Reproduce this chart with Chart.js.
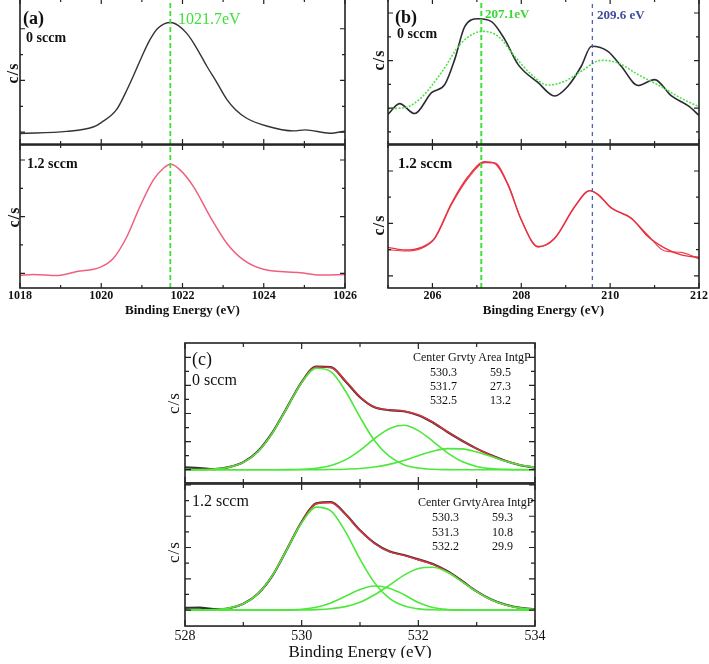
<!DOCTYPE html>
<html><head><meta charset="utf-8">
<script src="https://cdn.jsdelivr.net/npm/chart.js@4.4.1/dist/chart.umd.min.js"></script>
<style>
html,body{margin:0;padding:0;background:#fff;}
#stage{position:relative;width:709px;height:664px;overflow:hidden;background:#fff;}
.pane{position:absolute;}
.pane canvas{display:block;}
.t{position:absolute;white-space:nowrap;font-family:"Liberation Serif","Times New Roman",serif;color:#111;}
</style></head><body><div id="stage"></div>
<script>
// ================= DATA =================
// Panel (a) : 0 sccm / 1.2 sccm
const xA0  = [1018,1019.15,1019.8,1020.0,1020.38,1020.6,1020.79,1021.0,1021.2,1021.4,1021.71,1021.9,1022.1,1022.3,1022.6,1022.85,1023.09,1023.3,1023.58,1024.07,1024.73,1025.02,1025.63,1026];
const yA0  = [-0.05,0.03,0.2,0.37,0.88,1.53,2.17,2.93,3.58,4.03,4.24,4.12,3.83,3.38,2.55,1.91,1.27,0.88,0.54,0.24,0.05,0.09,-0.04,0.04];
const xA12 = [1018,1018.33,1018.9,1019.4,1019.97,1020.3,1020.63,1020.95,1021.28,1021.53,1021.71,1021.94,1022.27,1022.68,1023.09,1023.5,1023.99,1024.9,1025.38,1026];
const yA12 = [-0.08,-0.04,-0.08,0.06,0.21,0.53,1.29,2.35,3.29,3.71,3.85,3.65,3.06,2.0,1.06,0.47,0.14,0.02,-0.06,-0.04];
const peakA = 1021.7;

// Panel (b)
const xB0    = [205,205.26,205.6,205.98,206.28,206.5,206.73,207.03,207.33,207.63,207.93,208.38,208.75,209.05,209.35,209.58,209.95,210.25,210.63,211.0,211.38,211.76,212];
const yB0    = [0.74,1.19,0.77,1.65,2.0,3.04,4.44,4.76,4.64,3.88,2.83,2.07,1.51,1.92,2.76,3.6,3.39,2.76,1.95,2.2,1.51,1.09,0.70];
const xB0fit = [205,205.38,205.75,206.2,206.65,207.14,207.48,207.85,208.23,208.6,208.98,209.35,209.8,210.18,210.63,211.15,211.6,212];
const yB0fit = [0.98,1.02,1.44,2.49,3.74,4.23,4.02,3.18,2.41,1.97,2.13,2.55,3.01,2.9,2.41,1.9,1.41,1.06];
const xB12   = [205,205.38,205.75,206.05,206.43,206.8,207.18,207.4,207.7,208.0,208.38,208.75,209.2,209.54,209.73,210.03,210.48,210.85,211.23,211.6,212];
const yB12a  = [1.09,0.99,1.09,1.44,2.77,3.78,4.35,4.29,3.47,2.13,1.12,1.44,2.64,3.25,3.09,2.58,2.2,1.50,1.06,0.8,0.71];
const yB12b  = [1.0,0.95,1.05,1.42,2.72,3.72,4.32,4.31,3.5,2.15,1.1,1.42,2.62,3.25,3.1,2.6,2.18,1.55,0.95,0.9,0.65];
const peakB1 = 207.1, peakB2 = 209.6;

// Panel (c)
const xC = [528,528.25,528.5,528.75,529,529.25,529.5,529.75,530,530.25,530.5,530.75,531,531.25,531.5,531.75,532,532.25,532.5,532.75,533,533.25,533.5,533.75,534];
const c0Data = [0.08,0.06,0.02,0.09,0.27,0.66,1.33,2.22,3.12,3.67,3.65,3.15,2.58,2.22,2.12,2.08,1.94,1.68,1.34,1.03,0.75,0.51,0.31,0.16,0.07];
const c0Fit  = [0,0.006,0.025,0.089,0.26,0.64,1.31,2.21,3.11,3.66,3.64,3.17,2.60,2.23,2.13,2.09,1.95,1.69,1.35,1.03,0.75,0.51,0.31,0.17,0.08];
const c0G1   = [0,0.006,0.025,0.089,0.26,0.64,1.31,2.21,3.10,3.61,3.49,2.80,1.87,1.03,0.48,0.18,0.058,0.015,0.003,0,0,0,0,0,0];
const c0G2   = [0,0,0,0,0,0,0,0.003,0.014,0.05,0.147,0.35,0.69,1.11,1.46,1.58,1.39,1.01,0.60,0.29,0.116,0.038,0.01,0.002,0];
const c0G3   = [0,0,0,0,0,0,0,0,0,0,0.005,0.015,0.04,0.094,0.19,0.33,0.50,0.66,0.75,0.74,0.63,0.47,0.30,0.17,0.08];
const c12Data = [0.07,0.08,0.03,0.06,0.2,0.52,1.1,1.95,2.82,3.41,3.45,3.07,2.55,2.14,1.88,1.76,1.62,1.47,1.24,0.93,0.6,0.34,0.17,0.07,0.03];
const c12Fit  = [0,0.003,0.016,0.063,0.20,0.52,1.11,1.96,2.82,3.40,3.44,3.06,2.54,2.13,1.87,1.75,1.61,1.46,1.23,0.92,0.59,0.33,0.16,0.063,0.022];
const c12G1   = [0,0.003,0.016,0.063,0.20,0.52,1.11,1.95,2.79,3.29,3.17,2.51,1.63,0.87,0.38,0.135,0.04,0.01,0.002,0,0,0,0,0,0];
const c12G2   = [0,0,0,0,0,0,0.001,0.007,0.029,0.092,0.23,0.44,0.66,0.77,0.70,0.50,0.24,0.08,0.02,0.005,0,0,0,0,0];
const c12G3   = [0,0,0,0,0,0,0,0,0.004,0.015,0.044,0.11,0.25,0.49,0.79,1.11,1.33,1.37,1.21,0.91,0.59,0.33,0.16,0.063,0.022];
const c0Centers  = ['530.3','531.7','532.5'];
const c0Areas    = ['59.5','27.3','13.2'];
const c12Centers = ['530.3','531.3','532.2'];
const c12Areas   = ['59.3','10.8','29.9'];

// Tick values
const ticksXA = [1018,1020,1022,1024,1026], minorXA = [1019,1021,1023,1025];
const ticksXB = [206,208,210,212],          minorXB = [205,207,209,211];
const ticksXC = [528,530,532,534],          minorXC = [529,531,533];

// ================= DRAWING =================
const SERIF = '"Liberation Serif", "Times New Roman", serif';
const stage = document.getElementById('stage');
const pts = (xs, ys) => xs.map((x, i) => ({x, y: ys[i]}));

function line(xs, ys, color, width, extra) {
  return Object.assign({data: pts(xs, ys), borderColor: color, borderWidth: width, pointRadius: 0,
    fill: false, cubicInterpolationMode: 'monotone'}, extra || {});
}
function vline(x, y0, y1, color, width, dash) {
  return {data: [{x, y: y0}, {x, y: y1}], borderColor: color, borderWidth: width, borderDash: dash,
    pointRadius: 0, tension: 0, cubicInterpolationMode: 'default', fill: false};
}

const frameTicks = {
  id: 'frameTicks',
  afterDatasetsDraw(chart, args, o) {
    const {ctx, chartArea: a} = chart;
    const xs = chart.scales.x, ys = chart.scales.y;
    ctx.save();
    ctx.strokeStyle = '#222';
    ctx.lineWidth = 1.2;
    ctx.beginPath();
    const xt = (vals, len) => vals.forEach(v => { const p = xs.getPixelForValue(v);
      ctx.moveTo(p, a.bottom); ctx.lineTo(p, a.bottom - len); ctx.moveTo(p, a.top); ctx.lineTo(p, a.top + len); });
    const yt = (vals, len) => vals.forEach(v => { const p = ys.getPixelForValue(v);
      ctx.moveTo(a.left, p); ctx.lineTo(a.left + len, p); ctx.moveTo(a.right, p); ctx.lineTo(a.right - len, p); });
    xt(o.xMajor, o.major); xt(o.xMinor, o.minor); yt(o.yMajor, o.major); yt(o.yMinor, o.minor);
    ctx.stroke();
    ctx.lineWidth = 1.6;
    ctx.strokeRect(a.left, a.top, a.right - a.left, a.bottom - a.top);
    ctx.restore();
  }
};

function makePanel(p) {
  const box = document.createElement('div'); box.className = 'pane';
  const cv = document.createElement('canvas'); box.appendChild(cv); stage.appendChild(box);
  const A = p.area;
  const tw = A.r - A.l, th = A.b - A.t;
  const showX = !!p.xTitle;
  let W = tw + 50, H = th + (showX ? 70 : 10);
  cv.width = W; cv.height = H; cv.style.width = W + 'px'; cv.style.height = H + 'px';
  const chart = new Chart(cv, {
    type: 'line',
    data: {datasets: p.datasets},
    options: {
      responsive: false, maintainAspectRatio: false, animation: false, events: [],
      layout: {padding: {left: 25, right: 25, top: 5, bottom: 0}},
      plugins: {legend: {display: false}, tooltip: {enabled: false}, frameTicks: p.ticks},
      elements: {point: {radius: 0}},
      scales: {
        x: {type: 'linear', min: p.xmin, max: p.xmax, display: showX,
            grid: {display: false, drawTicks: false}, border: {display: false},
            afterBuildTicks: s => { s.ticks = p.ticks.xMajor.map(v => ({value: v})); },
            ticks: {autoSkip: false, maxRotation: 0, minRotation: 0, padding: p.tickPad || 1,
                    color: '#111', font: p.tickFont, callback: v => String(v)},
            title: {display: showX, text: p.xTitle || '', color: '#111', font: p.titleFont,
                    padding: {top: 0, bottom: 0}}},
        y: {type: 'linear', min: p.ymin, max: p.ymax, display: false}
      }
    },
    plugins: [frameTicks]
  });
  const a = chart.chartArea;
  const dw = tw - (a.right - a.left), dh = th - (a.bottom - a.top);
  if (Math.abs(dw) > 0.01 || Math.abs(dh) > 0.01) { W += dw; H += dh; chart.resize(W, H); }
  const a2 = chart.chartArea;
  box.style.left = (A.l - a2.left) + 'px';
  box.style.top = (A.t - a2.top) + 'px';
  return chart;
}

function addText(txt, x, cy, size, o) {
  o = o || {};
  const d = document.createElement('div');
  d.className = 't';
  d.textContent = txt;
  d.style.fontSize = size + 'px';
  d.style.lineHeight = Math.round(size * 1.2) + 'px';
  d.style.fontWeight = o.bold ? 'bold' : 'normal';
  d.style.color = o.color || '#111';
  if (o.ls) d.style.letterSpacing = o.ls + 'px';
  if (o.rot) {
    d.style.left = x + 'px'; d.style.top = cy + 'px';
    d.style.transform = 'translate(-50%,-50%) rotate(-90deg)';
  } else {
    d.style.left = x + 'px'; d.style.top = (cy - size * 0.6) + 'px';
    if (o.center) d.style.transform = 'translateX(-50%)';
  }
  stage.appendChild(d);
}

const GREEN = '#3ee03a', BLUE = '#5060b4';
const fontAB = {family: SERIF, size: 12, weight: 'bold', lineHeight: 1.2};
const titleAB = {family: SERIF, size: 13, weight: 'bold', lineHeight: 1.0};

// ---- (a) ----
const yrA0 = [-0.46, 5.15], yrA12 = [-0.52, 4.53];
makePanel({area: {l: 20, r: 345, t: -1, b: 145}, xmin: 1018, xmax: 1026, ymin: yrA0[0], ymax: yrA0[1],
  datasets: [vline(peakA, yrA0[0], yrA0[1], GREEN, 1.8, [5, 3]), line(xA0, yA0, '#333333', 1.4)],
  ticks: {xMajor: ticksXA, xMinor: minorXA, yMajor: [0, 2, 4], yMinor: [1, 3], major: 5, minor: 3}});
makePanel({area: {l: 20, r: 345, t: 145, b: 288}, xmin: 1018, xmax: 1026, ymin: yrA12[0], ymax: yrA12[1],
  datasets: [vline(peakA, yrA12[0], yrA12[1], GREEN, 1.8, [5, 3]), line(xA12, yA12, '#f0607e', 1.5)],
  ticks: {xMajor: ticksXA, xMinor: minorXA, yMajor: [0, 2, 4], yMinor: [1, 3], major: 5, minor: 3},
  xTitle: 'Binding Energy (eV)', tickFont: fontAB, titleFont: titleAB, tickPad: 1});

// ---- (b) ----
const yrB0 = [-0.51, 5.59], yrB12 = [-0.46, 4.99];
makePanel({area: {l: 388, r: 699, t: -1, b: 145}, xmin: 205, xmax: 212, ymin: yrB0[0], ymax: yrB0[1],
  datasets: [vline(peakB1, yrB0[0], yrB0[1], GREEN, 2, [5, 3]), vline(peakB2, yrB0[0], yrB0[1], BLUE, 1.3, [4, 4]),
             line(xB0fit, yB0fit, '#4fe04a', 1.6, {borderDash: [2, 1.5]}), line(xB0, yB0, '#2b2b33', 1.6)],
  ticks: {xMajor: ticksXB, xMinor: minorXB, yMajor: [1, 3, 5], yMinor: [0, 2, 4], major: 5, minor: 3}});
makePanel({area: {l: 388, r: 699, t: 145, b: 288}, xmin: 205, xmax: 212, ymin: yrB12[0], ymax: yrB12[1],
  datasets: [vline(peakB1, yrB12[0], yrB12[1], GREEN, 2, [5, 3]), vline(peakB2, yrB12[0], yrB12[1], BLUE, 1.3, [4, 4]),
             line(xB12, yB12a, '#e83040', 1.4), line(xB12, yB12b, '#ec4656', 1.2)],
  ticks: {xMajor: ticksXB, xMinor: minorXB, yMajor: [0, 2, 4], yMinor: [1, 3], major: 5, minor: 3},
  xTitle: 'Bingding Energy (eV)', tickFont: fontAB, titleFont: titleAB, tickPad: 1});

// ---- (c) ----
const CG = '#4ce83a', CR = '#e8303c', CK = '#333333';
const ycMaj = [0, 1, 2, 3, 4], ycMin = [0.5, 1.5, 2.5, 3.5];
makePanel({area: {l: 185, r: 535, t: 343, b: 484}, xmin: 528, xmax: 534, ymin: -0.47, ymax: 4.51,
  datasets: [line(xC, c0G1, CG, 1.6), line(xC, c0G2, CG, 1.6), line(xC, c0G3, CG, 1.6),
             line(xC, c0Fit, CR, 1.4), line(xC, c0Data, CK, 2.2)],
  ticks: {xMajor: ticksXC, xMinor: minorXC, yMajor: ycMaj, yMinor: ycMin, major: 6, minor: 4}});
makePanel({area: {l: 185, r: 535, t: 484, b: 626}, xmin: 528, xmax: 534, ymin: -0.51, ymax: 4.03,
  datasets: [line(xC, c12G1, CG, 1.6), line(xC, c12G2, CG, 1.6), line(xC, c12G3, CG, 1.6),
             line(xC, c12Fit, CR, 1.4), line(xC, c12Data, CK, 2.2)],
  ticks: {xMajor: ticksXC, xMinor: minorXC, yMajor: ycMaj, yMinor: ycMin, major: 6, minor: 4},
  xTitle: 'Binding Energy (eV)', tickFont: {family: SERIF, size: 14, lineHeight: 1.0},
  titleFont: {family: SERIF, size: 17, lineHeight: 0.65}, tickPad: 3.5});

// ================= TEXT =================
addText('(a)', 23, 18, 18, {bold: true});
addText('0 sccm', 26, 37, 14, {bold: true});
addText('1021.7eV', 178, 19, 16, {color: GREEN});
addText('c/s', 12, 73, 16, {bold: true, rot: true, ls: 1});
addText('1.2 sccm', 27, 163, 14, {bold: true});
addText('c/s', 13, 217, 16, {bold: true, rot: true, ls: 1});

addText('(b)', 395, 16.5, 18, {bold: true});
addText('0 sccm', 397, 33, 14, {bold: true});
addText('207.1eV', 485, 13.5, 13, {bold: true, color: '#3ad836'});
addText('209.6 eV', 597, 14.5, 13, {bold: true, color: '#3f4c9c'});
addText('c/s', 378, 60, 16, {bold: true, rot: true, ls: 1});
addText('1.2 sccm', 398, 163, 15, {bold: true});
addText('c/s', 378, 225, 16, {bold: true, rot: true, ls: 1});

addText('(c)', 192, 358.5, 18);
addText('0 sccm', 192, 380, 16);
addText('c/s', 174, 403, 17, {rot: true, ls: 1});
addText('1.2 sccm', 192, 501, 16);
addText('c/s', 174, 552, 17, {rot: true, ls: 1});

addText('Center Grvty Area IntgP', 413, 357, 12);
[371.7, 386, 400.5].forEach((cy, i) => {
  addText(c0Centers[i], 443.5, cy, 12, {center: true});
  addText(c0Areas[i], 500.5, cy, 12, {center: true});
});
addText('Center GrvtyArea IntgP', 418, 502, 12);
[516.7, 531.7, 546.5].forEach((cy, i) => {
  addText(c12Centers[i], 445.5, cy, 12, {center: true});
  addText(c12Areas[i], 502.5, cy, 12, {center: true});
});
</script>
</body></html>
